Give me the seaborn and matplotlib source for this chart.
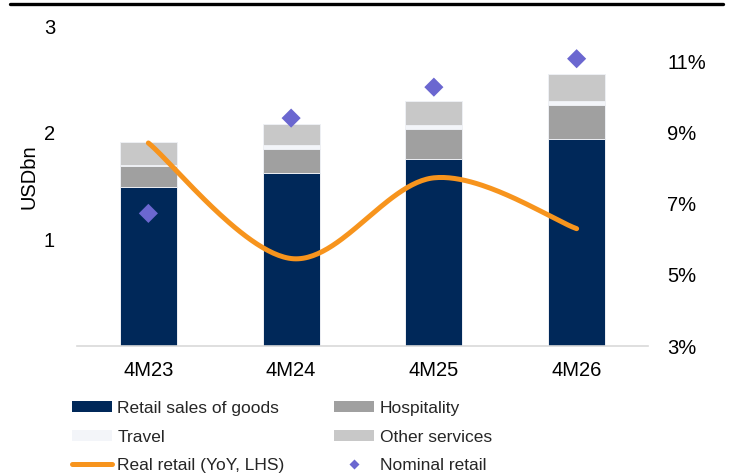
import numpy as np
import pandas as pd
import matplotlib
matplotlib.use("Agg")
import matplotlib.pyplot as plt
from matplotlib.lines import Line2D
from matplotlib.patches import Patch
import seaborn as sns

# ---- data ----
periods = ["4M23", "4M24", "4M25", "4M26"]
retail_goods = [1.49, 1.62, 1.75, 1.94]
hospitality = [0.20, 0.23, 0.28, 0.32]
travel = [0.01, 0.03, 0.04, 0.04]
other_services = [0.21, 0.20, 0.23, 0.25]
real_retail_yoy = [8.71, 5.46, 7.73, 6.30]   # %, right axis
nominal_retail = [6.73, 9.41, 10.28, 11.08]  # %, right axis
left_ticks = [1, 2, 3]
right_ticks = [3, 5, 7, 9, 11]

sns.set_theme(style="white")
plt.rcParams["font.family"] = ["Liberation Sans", "DejaVu Sans"]

C_GOODS = "#002859"
C_HOSP = "#a0a0a0"
C_TRAVEL = "#f3f5f9"
C_OTHER = "#c8c8c8"
C_LINE = "#f7941d"
C_DIAM = "#6b67d0"
TICK_FS = 14.5
LEG_FS = 12.5

fig = plt.figure(figsize=(7.35, 4.75), dpi=100)
ax = fig.add_axes([77/735, 1-346/475, (648-77)/735, (346-26)/475])

df = pd.DataFrame({"period": periods, "goods": retail_goods, "hosp": hospitality,
                   "travel": travel, "other": other_services})
df["c1"] = df["goods"]
df["c2"] = df["c1"] + df["hosp"]
df["c3"] = df["c2"] + df["travel"]
df["c4"] = df["c3"] + df["other"]

for col, colr in [("c4", C_OTHER), ("c3", C_TRAVEL), ("c2", C_HOSP), ("c1", C_GOODS)]:
    sns.barplot(data=df, x="period", y=col, color=colr, width=0.4, ax=ax,
                edgecolor="#eef0f4", linewidth=0.7, saturation=1, errorbar=None, zorder=2)

ax.set_xlim(-0.5, len(periods) - 0.5)
ax.set_ylim(0, 3)
ax.set_yticks(left_ticks)
ax.set_yticklabels([str(t) for t in left_ticks], fontsize=TICK_FS, color="black")
ax.set_ylabel("USDbn", fontsize=TICK_FS, color="black")
ax.yaxis.set_label_coords(-0.068, 0.53)
ax.set_xlabel("")
ax.set_xticks(range(len(periods)))
ax.set_xticklabels(periods, fontsize=TICK_FS, color="black")
ax.set_xticks(np.arange(-0.5, len(periods)), minor=True)
ax.tick_params(axis="x", which="major", length=0, pad=11)
ax.tick_params(axis="x", which="minor", length=4.3, width=1.1, color="#d9d9d9", direction="out")
ax.tick_params(axis="y", length=0, pad=15.8)
for s in ["top", "right", "left"]:
    ax.spines[s].set_visible(False)
ax.spines["bottom"].set_color("#d9d9d9")
ax.spines["bottom"].set_linewidth(1.2)

# right axis
ax2 = ax.twinx()
ax2.set_ylim(3, 12)
ax2.set_yticks(right_ticks)
ax2.set_yticklabels([f"{t}%" for t in right_ticks], fontsize=TICK_FS, color="black")
ax2.tick_params(axis="y", length=0, pad=13.7)
for s in ["top", "right", "left", "bottom"]:
    ax2.spines[s].set_visible(False)

# smoothed line (Catmull-Rom through the data points)
xs = np.arange(len(periods), dtype=float)
ys = np.array(real_retail_yoy, dtype=float)
px = np.concatenate([[xs[0]], xs, [xs[-1]]])
py = np.concatenate([[ys[0]], ys, [ys[-1]]])
cx, cy = [], []
t = np.linspace(0, 1, 60)
for i in range(1, len(px) - 2):
    p0, p1, p2, p3 = (np.array([px[j], py[j]]) for j in (i-1, i, i+1, i+2))
    b0 = p1
    b1 = p1 + (p2 - p0) / 6
    b2 = p2 - (p3 - p1) / 6
    b3 = p2
    pts = ((1-t)**3)[:, None]*b0 + (3*(1-t)**2*t)[:, None]*b1 + (3*(1-t)*t**2)[:, None]*b2 + (t**3)[:, None]*b3
    cx.extend(pts[:, 0]); cy.extend(pts[:, 1])
ax2.plot(cx, cy, color=C_LINE, lw=3.6, solid_capstyle="round", zorder=3)

sns.scatterplot(x=xs, y=nominal_retail, marker="D", color=C_DIAM, s=95,
                edgecolor="none", ax=ax2, zorder=4, legend=False)
ax2.set_xlim(-0.5, len(periods) - 0.5)

# legend
h_goods = Patch(facecolor=C_GOODS, edgecolor="none")
h_hosp = Patch(facecolor=C_HOSP, edgecolor="none")
h_trav = Patch(facecolor=C_TRAVEL, edgecolor="none")
h_oth = Patch(facecolor=C_OTHER, edgecolor="none")
h_line = Line2D([], [], color=C_LINE, lw=3.6, solid_capstyle="round")
h_diam = Line2D([], [], color=C_DIAM, marker="D", ls="none", markersize=5.2, markeredgecolor="none")
handles = [h_goods, h_trav, h_line, h_hosp, h_oth, h_diam]
labels = ["Retail sales of goods", "Travel", "Real retail (YoY, LHS)",
          "Hospitality", "Other services", "Nominal retail"]
fig.legend(handles, labels, loc="upper left", bbox_to_anchor=(72/735, 1-401/475),
           ncol=2, frameon=False, fontsize=LEG_FS, handlelength=2.3, handleheight=0.58,
           handletextpad=0.3, columnspacing=2.88, labelspacing=0.78, borderpad=0,
           borderaxespad=0)

# top rule
fig.add_artist(Line2D([10/735, 723/735], [1-4/475, 1-4/475], color="black", lw=2.4,
                      transform=fig.transFigure))

fig.savefig("out.png", dpi=100)
